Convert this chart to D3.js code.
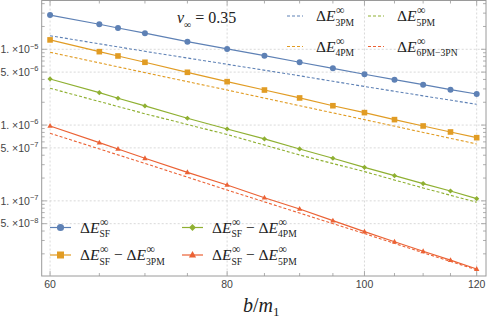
<!DOCTYPE html>
<html>
<head>
<meta charset="utf-8">
<script src="https://cdn.jsdelivr.net/npm/d3@7"></script>
<style>
  body { margin: 0; background: #fff; }
  text { font-family: "Liberation Serif", serif; fill: #222; }
  .tick-label { font-family: "Liberation Sans", Arial, sans-serif; fill: #444; }
</style>
</head>
<body>
<svg id="chart" width="488" height="321"></svg>
<script>
// impact parameter samples (points) and dashed-curve samples
const bPoints = [60, 65, 67, 70, 75, 80, 85, 90, 95, 100, 105, 110, 115, 120];
const bDash = [60, 70, 80, 90, 100, 110, 120];

// solid series with markers
const sfVals = [2.83e-5, 2.14e-5, 1.91e-5, 1.63e-5, 1.26e-5, 1.01e-5, 8.23e-6, 6.74e-6, 5.61e-6, 4.68e-6, 3.97e-6, 3.41e-6, 2.93e-6, 2.57e-6];
const sfMinus3PM = [1.33e-5, 9.30e-6, 8.16e-6, 6.74e-6, 4.97e-6, 3.74e-6, 2.90e-6, 2.28e-6, 1.80e-6, 1.46e-6, 1.18e-6, 9.73e-7, 8.11e-7, 6.82e-7];
const sfMinus4PM = [4.06e-6, 2.68e-6, 2.26e-6, 1.79e-6, 1.23e-6, 8.88e-7, 6.56e-7, 4.84e-7, 3.65e-7, 2.77e-7, 2.15e-7, 1.69e-7, 1.35e-7, 1.07e-7];
const sfMinus5PM = [9.73e-7, 5.86e-7, 4.84e-7, 3.65e-7, 2.38e-7, 1.62e-7, 1.10e-7, 7.82e-8, 5.48e-8, 3.92e-8, 2.89e-8, 2.16e-8, 1.65e-8, 1.26e-8];

// dashed PM curves
const pm3 = [1.51e-5, 9.40e-6, 6.34e-6, 4.47e-6, 3.23e-6, 2.43e-6, 1.88e-6];
const pm4 = [9.13e-6, 4.92e-6, 2.90e-6, 1.80e-6, 1.18e-6, 8.00e-7, 5.63e-7];
const pm5 = [3.06e-6, 1.41e-6, 7.50e-7, 4.03e-7, 2.43e-7, 1.48e-7, 9.58e-8];
const pm6 = [7.79e-7, 3.12e-7, 1.39e-7, 6.90e-8, 3.70e-8, 2.07e-8, 1.23e-8];

const xMajor = [60, 80, 100, 120];
const xMinor = [65, 70, 75, 85, 90, 95, 105, 110, 115];
const yLabeled = [1e-5, 5e-6, 1e-6, 5e-7, 1e-7, 5e-8];

const blue = "#5E81B5", orange = "#E19C24", green = "#8FB032", red = "#EB6235";

const svg = d3.select("#chart");
const plotL = 41.7, plotR = 486, plotT = 0.5, plotB = 276;

const x = d3.scaleLog().domain([59.19, 121.83]).range([plotL, plotR]);
const y = d3.scaleLog().domain([1.02e-8, 4.47e-5]).range([plotB, 0]);

// grid lines
const grid = svg.append("g");
xMajor.forEach(v => {
    grid.append("line").attr("x1", x(v)).attr("x2", x(v)).attr("y1", plotT).attr("y2", plotB)
        .attr("stroke", "#cfcfcf").attr("stroke-width", 0.8).attr("stroke-dasharray", "2,2");
});
yLabeled.forEach(v => {
    grid.append("line").attr("x1", plotL).attr("x2", plotR).attr("y1", y(v)).attr("y2", y(v))
        .attr("stroke", "#cfcfcf").attr("stroke-width", 0.8).attr("stroke-dasharray", "2,2");
});

// frame
svg.append("rect").attr("x", plotL).attr("y", plotT).attr("width", plotR - plotL).attr("height", plotB - plotT)
    .attr("fill", "none").attr("stroke", "#9a9a9a").attr("stroke-width", 1);

// ticks
const ticks = svg.append("g").attr("stroke", "#9a9a9a").attr("stroke-width", 0.8);
xMajor.concat(xMinor).forEach(v => {
    const len = xMajor.includes(v) ? 5 : 3;
    ticks.append("line").attr("x1", x(v)).attr("x2", x(v)).attr("y1", plotB).attr("y2", plotB - len);
    ticks.append("line").attr("x1", x(v)).attr("x2", x(v)).attr("y1", plotT).attr("y2", plotT + len);
});
for (let e = -8; e <= -5; e++) {
    for (let m = 1; m <= 9; m++) {
        const v = m * Math.pow(10, e);
        if (v < y.domain()[0] || v > y.domain()[1]) continue;
        const len = (m === 1 || m === 5) ? 5 : 3;
        ticks.append("line").attr("x1", plotL).attr("x2", plotL + len).attr("y1", y(v)).attr("y2", y(v));
        ticks.append("line").attr("x1", plotR).attr("x2", plotR - len).attr("y1", y(v)).attr("y2", y(v));
    }
}

// tick labels
xMajor.forEach(v => {
    svg.append("text").attr("class", "tick-label").attr("x", x(v)).attr("y", 288)
        .attr("text-anchor", "middle").style("font-size", "10.5px").text(v);
});
yLabeled.forEach(v => {
    const e = Math.floor(Math.log10(v) + 1e-9);
    const m = Math.round(v / Math.pow(10, e));
    const t = svg.append("text").attr("class", "tick-label").attr("x", 38.5).attr("y", y(v) + 3.8)
        .attr("text-anchor", "end").style("font-size", "10.5px");
    t.append("tspan").text(m + ". \u00d710");
    t.append("tspan").attr("dy", -4.5).style("font-size", "7.5px").text("\u2212" + (-e));
});

// dashed curves
const line = d3.line().x(d => x(d[0])).y(d => y(d[1]));
[[pm3, blue], [pm4, orange], [pm5, green], [pm6, red]].forEach(([vals, c]) => {
    svg.append("path").datum(bDash.map((b, i) => [b, vals[i]]))
        .attr("d", line).attr("fill", "none").attr("stroke", c)
        .attr("stroke-width", 1.1).attr("stroke-dasharray", "3,2");
});

// marker shapes
function marker(g, shape, cx, cy, s, c) {
    if (shape === "circle") {
        g.append("circle").attr("cx", cx).attr("cy", cy).attr("r", s).attr("fill", c);
    } else if (shape === "square") {
        g.append("rect").attr("x", cx - s).attr("y", cy - s).attr("width", 2 * s).attr("height", 2 * s).attr("fill", c);
    } else if (shape === "diamond") {
        g.append("path").attr("d", `M${cx},${cy - s}L${cx + s},${cy}L${cx},${cy + s}L${cx - s},${cy}Z`).attr("fill", c);
    } else {
        g.append("path").attr("d", `M${cx},${cy - s * 1.1}L${cx + s},${cy + s * 0.7}L${cx - s},${cy + s * 0.7}Z`).attr("fill", c);
    }
}

const solidSeries = [
    [sfVals, blue, "circle", 3],
    [sfMinus3PM, orange, "square", 2.8],
    [sfMinus4PM, green, "diamond", 2.6],
    [sfMinus5PM, red, "triangle", 2.7]
];
solidSeries.forEach(([vals, c, shape, s]) => {
    const pts = bPoints.map((b, i) => [b, vals[i]]);
    svg.append("path").datum(pts).attr("d", line).attr("fill", "none")
        .attr("stroke", c).attr("stroke-width", 1.2);
    const g = svg.append("g");
    pts.forEach(p => marker(g, shape, x(p[0]), y(p[1]), s, c));
});

// math-ish labels: items with base / sup / sub, or plain operator text
function mathText(x0, y0, items, fs) {
    let cx = x0;
    items.forEach(it => {
        if (it.op) {
            const t = svg.append("text").attr("x", cx).attr("y", y0).style("font-size", fs + "px")
                .style("white-space", "pre").text(it.op);
            cx += t.node().getComputedTextLength();
            return;
        }
        const t = svg.append("text").attr("x", cx).attr("y", y0).style("font-size", fs + "px");
        if (it.pre) t.append("tspan").text(it.pre);
        t.append("tspan").style("font-style", "italic").text(it.base);
        cx += t.node().getComputedTextLength();
        let w = 0;
        if (it.sup) {
            const s = svg.append("text").attr("x", cx + 0.5).attr("y", y0 - fs * 0.42)
                .style("font-size", (fs * 0.78) + "px").text(it.sup);
            w = Math.max(w, s.node().getComputedTextLength() + 0.5);
        }
        if (it.sub) {
            const s = svg.append("text").attr("x", cx).attr("y", y0 + fs * 0.3)
                .style("font-size", (fs * 0.62) + "px").text(it.sub);
            w = Math.max(w, s.node().getComputedTextLength());
        }
        cx += w;
    });
}
const dE = sub => ({ pre: "\u0394", base: "E", sup: "\u221e", sub: sub });
const minus = { op: " \u2212 " };

// v_inf annotation
mathText(177, 23, [{ base: "v", sub: "\u221e" }, { op: " = 0.35" }], 16);

// top legend (dashed)
const dashLegend = [
    [287, 16, blue, [dE("3PM")]],
    [368, 16, green, [dE("5PM")]],
    [287, 46.5, orange, [dE("4PM")]],
    [368, 46.5, red, [dE("6PM\u22123PN")]]
];
dashLegend.forEach(([lx, ly, c, items]) => {
    svg.append("line").attr("x1", lx).attr("x2", lx + 16).attr("y1", ly).attr("y2", ly)
        .attr("stroke", c).attr("stroke-width", 1.1).attr("stroke-dasharray", "3,2");
    mathText(lx + 29, ly + 5, items, 15.5);
});

// bottom legend (markers)
const markLegend = [
    [50, 227.5, blue, "circle", 3.6, [dE("SF")]],
    [182, 227.5, green, "diamond", 3.4, [dE("SF"), minus, dE("4PM")]],
    [50, 255, orange, "square", 3.5, [dE("SF"), minus, dE("3PM")]],
    [182, 255, red, "triangle", 3.6, [dE("SF"), minus, dE("5PM")]]
];
markLegend.forEach(([lx, ly, c, shape, s, items]) => {
    svg.append("line").attr("x1", lx).attr("x2", lx + 21).attr("y1", ly).attr("y2", ly)
        .attr("stroke", c).attr("stroke-width", 1.2);
    marker(svg, shape, lx + 10.5, ly, s, c);
    mathText(lx + 30, ly + 5, items, 15.5);
});

// x axis title
const xt = svg.append("text").attr("x", 243).attr("y", 312).style("font-size", "20px");
xt.append("tspan").style("font-style", "italic").text("b");
xt.append("tspan").text("/");
xt.append("tspan").style("font-style", "italic").text("m");
xt.append("tspan").attr("dy", 4).style("font-size", "13px").text("1");
</script>
</body>
</html>
